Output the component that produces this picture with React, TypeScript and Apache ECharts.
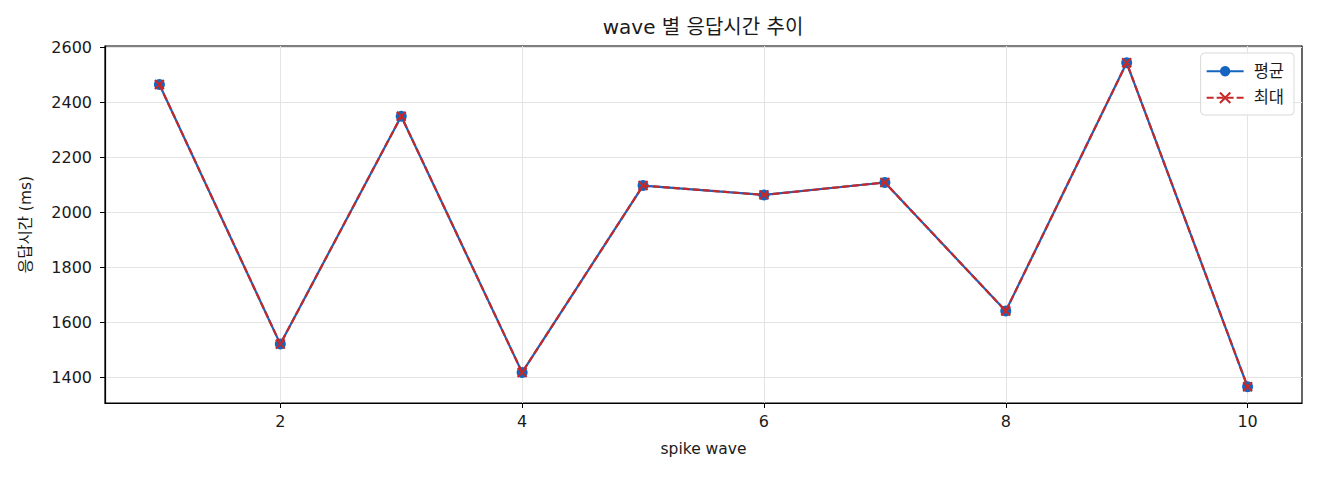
import React, { useEffect, useRef } from 'react';
import * as echarts from 'echarts';

const waves = [1, 2, 3, 4, 5, 6, 7, 8, 9, 10];
const avgMs = [2464, 1521, 2349, 1418, 2097, 2063, 2108, 1641, 2543, 1366];
const maxMs = [2464, 1521, 2349, 1418, 2097, 2063, 2108, 1641, 2543, 1366];
const xTicks = [2, 4, 6, 8, 10];
const yTicks = [1400, 1600, 1800, 2000, 2200, 2400, 2600];

const FONT = '"DejaVu Sans", "Noto Sans CJK KR", sans-serif';
const BLUE = '#1565c0';
const RED = '#c62828';
const INK = '#1a1a1a';

const App: React.FC = () => {
    const chartRef = useRef<HTMLDivElement>(null);

    useEffect(() => {
        if (!chartRef.current) return;
        const chart = echarts.init(chartRef.current, undefined, { renderer: 'svg' });

        const option: echarts.EChartsOption = {
            animation: false,
            textStyle: { fontFamily: FONT },
            title: {
                text: 'wave 별 응답시간 추이',
                left: 703,
                top: 17,
                padding: 0,
                textAlign: 'center',
                textStyle: { fontSize: 20, fontWeight: 'normal', color: INK, fontFamily: FONT },
            },
            legend: {
                right: 26,
                top: 53,
                orient: 'vertical',
                itemWidth: 37,
                itemHeight: 13,
                itemGap: 10,
                padding: [10, 10, 9, 5],
                borderColor: '#d9d9d9',
                borderWidth: 1,
                borderRadius: 4,
                backgroundColor: 'rgba(255,255,255,0.85)',
                textStyle: { fontSize: 16.5, color: INK, fontFamily: FONT, padding: [0, 0, 0, 5] },
                data: ['평균', '최대'],
            },
            grid: {
                left: 105,
                right: 18,
                top: 46,
                bottom: 77,
                show: true,
                borderColor: '#000',
                borderWidth: 1.2,
                containLabel: false,
            },
            xAxis: {
                type: 'value',
                min: 0.55,
                max: 10.45,
                name: 'spike wave',
                nameLocation: 'middle',
                nameGap: 38,
                nameTextStyle: { fontSize: 15.5, color: INK },
                axisLine: { lineStyle: { color: '#000', width: 1.2 } },
                axisTick: { length: 5, lineStyle: { color: '#000' }, customValues: xTicks },
                axisLabel: { fontSize: 16, color: INK, margin: 10, customValues: xTicks },
                splitLine: { show: true, lineStyle: { color: '#e4e4e4' } },
            },
            yAxis: {
                type: 'value',
                min: 1307,
                max: 2604,
                name: '응답시간 (ms)',
                nameLocation: 'middle',
                nameGap: 71,
                nameRotate: 90,
                nameTextStyle: { fontSize: 15.5, color: INK },
                axisLine: { show: true, lineStyle: { color: '#000', width: 1.2 } },
                axisTick: { show: true, length: 5, lineStyle: { color: '#000' }, customValues: yTicks },
                axisLabel: {
                    fontSize: 16,
                    color: INK,
                    margin: 13,
                    customValues: yTicks,
                    formatter: (v: number) => String(v),
                },
                splitLine: { show: true, lineStyle: { color: '#e4e4e4' } },
            },
            series: [
                {
                    name: '평균',
                    type: 'line',
                    data: waves.map((w, i) => [w, avgMs[i]]),
                    symbol: 'circle',
                    symbolSize: 11,
                    showAllSymbol: true,
                    lineStyle: { color: BLUE, width: 2.2 },
                    itemStyle: { color: BLUE },
                    z: 2,
                },
                {
                    name: '최대',
                    type: 'line',
                    data: waves.map((w, i) => [w, maxMs[i]]),
                    symbol: 'path://M0,0L10,10M10,0L0,10',
                    symbolSize: 9,
                    showAllSymbol: true,
                    lineStyle: { color: RED, width: 2.2, type: [7, 3] },
                    itemStyle: { color: RED, borderColor: RED, borderWidth: 2 },
                    z: 3,
                },
            ],
        };

        chart.setOption(option);
        return () => chart.dispose();
    }, []);

    return (
        <div
            ref={chartRef}
            style={{ position: 'absolute', left: 0, top: 0, width: 1320, height: 480, background: '#fff' }}
        />
    );
};

export default App;
